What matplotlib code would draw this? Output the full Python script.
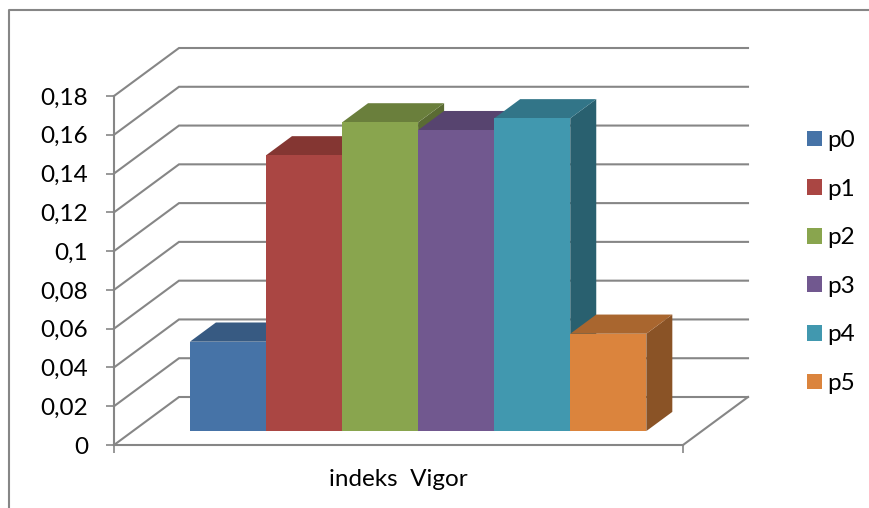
import matplotlib
matplotlib.use("Agg")
import matplotlib.pyplot as plt
from matplotlib.lines import Line2D
from matplotlib.patches import Patch, Polygon

plt.rcParams['font.family'] = ['Lato', 'DejaVu Sans']

# values
series = ["p0", "p1", "p2", "p3", "p4", "p5"]
values = [0.0461, 0.1422, 0.1592, 0.1552, 0.1613, 0.0502]
category = "indeks  Vigor"
y_ticks = [0, 0.02, 0.04, 0.06, 0.08, 0.1, 0.12, 0.14, 0.16, 0.18]
y_labels = ["0", "0,02", "0,04", "0,06", "0,08", "0,1", "0,12", "0,14", "0,16", "0,18"]

front_colors = ["#4673A7", "#AA4643", "#89A54E", "#71588F", "#4198AF", "#DB843D"]
top_colors = ["#375A82", "#843632", "#6A7F3C", "#57446F", "#327588", "#A9662F"]
side_colors = ["#2F4D70", "#722E2B", "#5A6B33", "#4A3A5F", "#29606F", "#8A5326"]
grid_color = "#868686"

W, H = 870, 508
XMAX = 7.48
fig = plt.figure(figsize=(W / 100, H / 100), dpi=100)
ax = fig.add_axes([114 / W, (H - 445) / H, 569 / W, 349 / H])
ax.set_xlim(0, XMAX)
ax.set_ylim(0, 0.18)

# oblique depth, one unit of depth in x units and value units
DX = 65 / 76.07
DY = 48 / 1939
GAP = 0.75
D0, D1 = 0.29, 0.69


def pt(x, y, d):
    return (x + d * DX, y + d * DY)


# walls and floor
for v in y_ticks:
    ax.plot(*zip(pt(0, v, 0), pt(0, v, 1), pt(XMAX, v, 1)), color=grid_color, lw=1.5,
            clip_on=False, zorder=1, solid_joinstyle="miter")
ax.plot(*zip(pt(XMAX, 0, 0), pt(XMAX, 0, 1)), color=grid_color, lw=1.5, clip_on=False, zorder=1)

# bars, left to right so the later ones cover the earlier sides
for i, v in enumerate(values):
    x0 = GAP + i
    x1 = x0 + 1
    z = 2 + i
    side = [pt(x1, 0, D0), pt(x1, v, D0), pt(x1, v, D1), pt(x1, 0, D1)]
    top = [pt(x0, v, D0), pt(x1, v, D0), pt(x1, v, D1), pt(x0, v, D1)]
    front = [pt(x0, 0, D0), pt(x1, 0, D0), pt(x1, v, D0), pt(x0, v, D0)]
    ax.add_patch(Polygon(side, fc=side_colors[i], ec="none", clip_on=False, zorder=z))
    ax.add_patch(Polygon(top, fc=top_colors[i], ec="none", clip_on=False, zorder=z))
    ax.add_patch(Polygon(front, fc=front_colors[i], ec="none", clip_on=False, zorder=z))

for s in ["top", "right"]:
    ax.spines[s].set_visible(False)
for s in ["left", "bottom"]:
    ax.spines[s].set_color(grid_color)
    ax.spines[s].set_linewidth(1.5)
ax.patch.set_visible(False)

ax.set_yticks(y_ticks, y_labels, fontsize=17.5, color="black")
ax.set_xticks([0, XMAX], ["", ""])
ax.tick_params(axis="y", length=6, width=1.2, color=grid_color, pad=12.5)
ax.tick_params(axis="x", length=6, width=1.2, color=grid_color)
fig.text(398 / W, (H - 479) / H, category, fontsize=17.5, ha="center", va="center")

# outer chart border, only left and top show
fig.add_artist(Line2D([9 / W, 9 / W, 1], [0, (H - 10) / H, (H - 10) / H], color=grid_color, lw=1.5))

handles = [Patch(fc=c, ec="none", label=s) for c, s in zip(front_colors, series)]
fig.legend(handles=handles, loc="center left", bbox_to_anchor=(807 / W, (H - 262) / H),
           frameon=False, fontsize=17.5, handlelength=0.62, handleheight=0.62,
           handletextpad=0.2, labelspacing=1.135, borderpad=0, borderaxespad=0)

fig.savefig("out.png", dpi=100)
